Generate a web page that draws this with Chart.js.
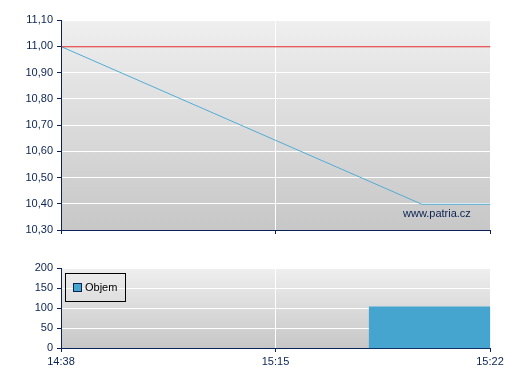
<!DOCTYPE html>
<html>
<head>
<meta charset="utf-8">
<script src="https://cdn.jsdelivr.net/npm/chart.js@4/dist/chart.umd.min.js"></script>
<style>
  html, body { margin: 0; padding: 0; background: #ffffff; width: 507px; height: 380px; overflow: hidden; }
  #wrap1 { position: absolute; left: 0; top: 0; width: 507px; height: 240px; }
  #wrap2 { position: absolute; left: 0; top: 248px; width: 507px; height: 132px; }
  .legend { position: absolute; left: 65px; top: 273px; width: 59px; height: 27px; border: 1px solid #000; box-sizing: content-box;
            font: 11px "Liberation Sans", Arial, sans-serif; color: #000; }
  .legend .sw { position: absolute; left: 7px; top: 9px; width: 7px; height: 7px; background: #45a5cf; border: 1px solid #0b2352; }
  .legend .lb { position: absolute; left: 19px; top: 8px; line-height: 11px; }
  .credit { position: absolute; left: 403px; top: 207px; font: 11px "Liberation Sans", Arial, sans-serif; color: #0b2352; line-height: 12px; }
</style>
</head>
<body>
<div id="wrap1"><canvas id="c1" width="507" height="240"></canvas></div>
<div id="wrap2"><canvas id="c2" width="507" height="132"></canvas></div>
<div class="credit">www.patria.cz</div>
<div class="legend"><div class="sw"></div><div class="lb">Objem</div></div>
<script>
// ---- data ----
const timeTickPositions = [0, 0.5, 1];
const timeTickLabels = ['14:38', '15:15', '15:22'];
const priceX = [0, 0.84, 1];
const priceValues = [11.00, 10.40, 10.40];
const referencePrice = 11.00;
const volumeStartX = 0.716;
const volumeEndX = 1;
const volumeValue = 105;
const volumeLabel = 'Objem';

// ---- styles ----
const NAVY = '#0b2352';
const AXIS = '#0a2257';
const FONT = { family: '"Liberation Sans", Arial, sans-serif', size: 11 };

const bgPlugin = {
  id: 'bg',
  beforeDraw(chart) {
    const a = chart.chartArea, ctx = chart.ctx;
    const g = ctx.createLinearGradient(0, a.top, 0, a.bottom);
    g.addColorStop(0, '#efefef');
    g.addColorStop(1, '#c7c7c7');
    ctx.save();
    ctx.fillStyle = g;
    ctx.fillRect(a.left, a.top, a.right - a.left, a.bottom - a.top);
    ctx.restore();
  },
  beforeDatasetsDraw(chart) { chart.ctx.save(); chart.ctx.translate(0.5, 0.5); },
  afterDatasetsDraw(chart) { chart.ctx.restore(); }
};

function xScale(showLabels, h) {
  return {
    type: 'linear', min: 0, max: 1,
    afterBuildTicks(s) { s.ticks = timeTickPositions.map(v => ({ value: v })); },
    afterFit(s) { s.height = h; },
    ticks: {
      autoSkip: false, maxRotation: 0, color: NAVY, font: FONT, padding: 3,
      callback(v) { const i = timeTickPositions.indexOf(v); return showLabels && i >= 0 ? timeTickLabels[i] : ''; }
    },
    grid: {
      color: ctx => (ctx.tick && ctx.tick.value === 0) ? 'rgba(0,0,0,0)' : '#ffffff',
      lineWidth: 1, tickColor: AXIS, tickLength: 4, drawTicks: true
    },
    border: { color: AXIS, width: 1 }
  };
}

function yScale(min, max, step, fmt) {
  return {
    type: 'linear', min, max,
    afterFit(s) { s.width = 61; s.paddingTop = 0; s.paddingBottom = 0; },
    ticks: { stepSize: step, color: NAVY, font: FONT, padding: 4, callback: fmt },
    grid: {
      color: ctx => (ctx.tick && Math.abs(ctx.tick.value - min) < 1e-9) ? 'rgba(0,0,0,0)' : '#ffffff',
      lineWidth: 1, tickColor: AXIS, tickLength: 4
    },
    border: { color: AXIS, width: 1 }
  };
}

Chart.defaults.animation = false;

new Chart(document.getElementById('c1'), {
  type: 'line',
  data: {
    datasets: [
      {
        data: [{ x: 0, y: referencePrice }, { x: 1, y: referencePrice }],
        borderColor: '#e02626', borderWidth: 1, pointRadius: 0, tension: 0
      },
      {
        data: priceX.map((x, i) => ({ x, y: priceValues[i] })),
        borderColor: '#52acd6', borderWidth: 1, pointRadius: 0, tension: 0
      }
    ]
  },
  options: {
    responsive: false, maintainAspectRatio: false,
    layout: { padding: { top: 20, right: 17, left: 0, bottom: 0 } },
    plugins: { legend: { display: false }, tooltip: { enabled: false } },
    scales: {
      x: xScale(false, 10),
      y: yScale(10.30, 11.10, 0.1, v => Number(v).toFixed(2).replace('.', ','))
    }
  },
  plugins: [bgPlugin]
});

new Chart(document.getElementById('c2'), {
  type: 'line',
  data: {
    datasets: [
      {
        label: volumeLabel,
        data: [{ x: volumeStartX, y: volumeValue }, { x: volumeEndX, y: volumeValue }],
        borderWidth: 0, borderColor: 'rgba(0,0,0,0)', backgroundColor: '#45a5cf',
        fill: 'origin', pointRadius: 0, tension: 0
      }
    ]
  },
  options: {
    responsive: false, maintainAspectRatio: false,
    layout: { padding: { top: 20, right: 17, left: 0, bottom: 0 } },
    plugins: { legend: { display: false }, tooltip: { enabled: false } },
    scales: {
      x: xScale(true, 32),
      y: yScale(0, 200, 50, v => String(v))
    }
  },
  plugins: [bgPlugin]
});
</script>
</body>
</html>
